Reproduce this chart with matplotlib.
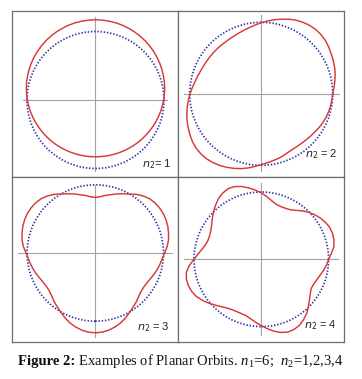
import numpy as np
import matplotlib
matplotlib.use("Agg")
import matplotlib.pyplot as plt
from matplotlib.patches import Circle

# ---------------- data ----------------
# polar radius of each red orbit, relative to the blue reference circle (radius 1),
# sampled every 5 degrees starting at 0 deg (counter-clockwise)
angles_deg = list(range(0, 360, 5))

orbit_n2_1 = [0.995, 1.010, 1.025, 1.040, 1.054, 1.068, 1.081, 1.094, 1.106,
              1.117, 1.128, 1.137, 1.146, 1.153, 1.160, 1.165, 1.168, 1.170,
              1.171, 1.170, 1.168, 1.165, 1.160, 1.153, 1.146, 1.137, 1.128,
              1.117, 1.106, 1.094, 1.081, 1.068, 1.054, 1.040, 1.025, 1.010,
              0.995, 0.980, 0.965, 0.950, 0.936, 0.922, 0.909, 0.897, 0.886,
              0.876, 0.866, 0.858, 0.850, 0.844, 0.839, 0.835, 0.832, 0.830,
              0.829, 0.830, 0.832, 0.835, 0.839, 0.844, 0.850, 0.858, 0.866,
              0.876, 0.886, 0.897, 0.909, 0.922, 0.936, 0.950, 0.965, 0.980]

orbit_n2_2 = [1.000, 1.022, 1.046, 1.071, 1.092, 1.110, 1.128, 1.150, 1.168,
              1.177, 1.179, 1.172, 1.157, 1.138, 1.110, 1.080, 1.052, 1.022,
              0.995, 0.965, 0.942, 0.922, 0.906, 0.893, 0.885, 0.881, 0.880,
              0.881, 0.883, 0.886, 0.890, 0.897, 0.908, 0.924, 0.943, 0.968,
              0.995, 1.022, 1.050, 1.077, 1.103, 1.127, 1.150, 1.172, 1.186,
              1.191, 1.188, 1.175, 1.158, 1.135, 1.110, 1.084, 1.053, 1.020,
              0.990, 0.968, 0.951, 0.935, 0.918, 0.900, 0.892, 0.891, 0.894,
              0.901, 0.910, 0.922, 0.938, 0.952, 0.964, 0.976, 0.985, 0.993]

orbit_n2_3 = [1.015, 1.058, 1.090, 1.112, 1.132, 1.145, 1.152, 1.151, 1.143,
              1.125, 1.092, 1.050, 0.998, 0.958, 0.922, 0.885, 0.858, 0.828,
              0.815, 0.828, 0.858, 0.885, 0.922, 0.958, 0.998, 1.050, 1.092,
              1.125, 1.143, 1.151, 1.152, 1.145, 1.132, 1.112, 1.090, 1.058,
              1.015, 0.985, 0.962, 0.940, 0.915, 0.892, 0.875, 0.868, 0.876,
              0.900, 0.935, 0.968, 1.005, 1.050, 1.090, 1.122, 1.148, 1.165,
              1.170, 1.165, 1.148, 1.122, 1.090, 1.050, 1.005, 0.968, 0.935,
              0.900, 0.876, 0.868, 0.875, 0.892, 0.915, 0.940, 0.962, 0.985]

orbit_n2_4 = [1.000, 1.047, 1.095, 1.118, 1.126, 1.122, 1.100, 1.070, 1.032,
              0.990, 0.940, 0.888, 0.852, 0.838, 0.835, 0.848, 0.885, 0.935,
              0.985, 1.033, 1.077, 1.120, 1.150, 1.160, 1.140, 1.105, 1.055,
              1.003, 0.950, 0.900, 0.865, 0.845, 0.840, 0.855, 0.890, 0.940,
              1.000, 1.075, 1.132, 1.152, 1.152, 1.138, 1.110, 1.065, 1.015,
              0.965, 0.920, 0.885, 0.865, 0.858, 0.860, 0.868, 0.900, 0.940,
              0.985, 1.035, 1.085, 1.125, 1.152, 1.150, 1.133, 1.095, 1.050,
              0.990, 0.935, 0.888, 0.858, 0.862, 0.880, 0.905, 0.940, 0.972]

orbits = [orbit_n2_1, orbit_n2_2, orbit_n2_3, orbit_n2_4]
n1_value = 6
n2_values = [1, 2, 3, 4]

# ---------------- layout (pixels of a 362x379 image) ----------------
W, H = 362, 379
# panel box (x0, x1, y0, y1), circle centre (cx, cy), circle radius R
panels = [
    dict(box=(12, 178, 11, 176.5), c=(95.5, 100.0), R=68.5,
         hx=(-1.054, 1.04), vy=(-1.03, 1.216), lab=(0.962, 0.072)),
    dict(box=(178, 344, 11, 176.5), c=(261.2, 93.8), R=71.5,
         hx=(-1.075, 1.092), vy=(-1.075, 1.10), lab=(0.962, 0.133)),
    dict(box=(12, 178, 176.5, 342), c=(95.3, 253.0), R=68.2,
         hx=(-1.13, 1.12), vy=(-1.227, 1.0), lab=(0.952, 0.091)),
    dict(box=(178, 344, 176.5, 342), c=(261.3, 259.3), R=67.3,
         hx=(-1.144, 1.135), vy=(-1.125, 1.13), lab=(0.958, 0.103)),
]
label_fmt = ["$n_2$= {}", "$n_2$ = {}", "$n_2$ = {}", "$n_2$ = {}"]

RED = "#d6393b"
BLUE = "#2e2ea6"
AXIS_GRAY = "#a3a3a3"
FRAME_GRAY = "#6e6e6e"

plt.rcParams["mathtext.fontset"] = "custom"
plt.rcParams["mathtext.rm"] = "Liberation Serif"
plt.rcParams["mathtext.it"] = "Liberation Serif:italic"
plt.rcParams["mathtext.bf"] = "Liberation Serif:bold"

fig = plt.figure(figsize=(W / 100, H / 100), dpi=100)
fig.patch.set_facecolor("white")

theta = np.deg2rad(np.array(angles_deg + [angles_deg[0]]))

for p, r_vals, n2, fmt in zip(panels, orbits, n2_values, label_fmt):
    x0, x1, y0, y1 = p["box"]
    cx, cy = p["c"]
    R = p["R"]
    ax = fig.add_axes([x0 / W, 1 - y1 / H, (x1 - x0) / W, (y1 - y0) / H])
    ax.set_xlim((x0 - cx) / R, (x1 - cx) / R)
    ax.set_ylim((cy - y1) / R, (cy - y0) / R)
    ax.set_xticks([])
    ax.set_yticks([])
    for s in ax.spines.values():
        s.set_color(FRAME_GRAY)
        s.set_linewidth(0.9)
    # axes cross
    ax.plot(p["hx"], [0, 0], color=AXIS_GRAY, lw=0.8, zorder=1)
    ax.plot([0, 0], p["vy"], color=AXIS_GRAY, lw=0.8, zorder=1)
    # reference circle
    ax.add_patch(Circle((0, 0), 1.0, fill=False, edgecolor=BLUE, lw=1.25,
                        linestyle=(0, (0.8, 1.05)), zorder=2))
    # orbit
    r = np.array(r_vals + [r_vals[0]])
    ax.plot(r * np.cos(theta), r * np.sin(theta), color=RED, lw=1.05,
            zorder=3, solid_joinstyle="round", antialiased=True)
    ax.text(p["lab"][0], p["lab"][1], fmt.format(n2), transform=ax.transAxes,
            ha="right", va="center", fontsize=8, family="Liberation Sans",
            math_fontfamily="dejavusans", color="#222222")

# caption
CAP_SIZE = 10.5
t1 = fig.text(18 / W, 1 - 365 / H, "Figure 2:", fontsize=CAP_SIZE,
              family="Liberation Serif", fontweight="bold", va="baseline",
              ha="left", color="#111111")
fig.canvas.draw()
bb = t1.get_window_extent(renderer=fig.canvas.get_renderer())
rest = " Examples of Planar Orbits. $n_1$=%d;  $n_2$=%s" % (
    n1_value, ",".join(str(v) for v in n2_values))
fig.text(bb.x1 / W, 1 - 365 / H, rest, fontsize=CAP_SIZE,
         family="Liberation Serif", va="baseline", ha="left", color="#111111")

fig.savefig("out.png", dpi=100, facecolor="white")
